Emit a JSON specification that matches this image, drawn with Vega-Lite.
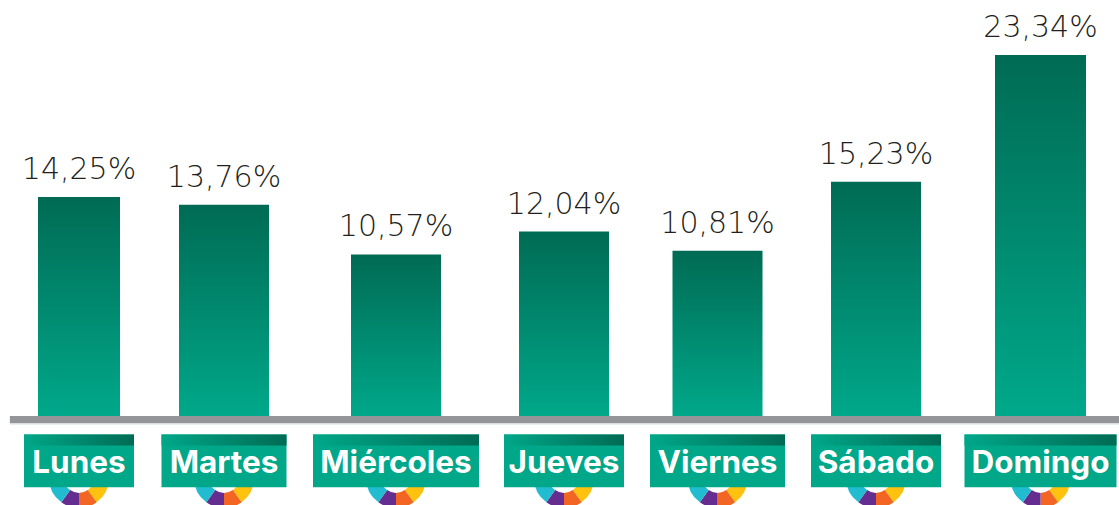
{
"$schema":"https://vega.github.io/schema/vega-lite/v6.json",
"width":1119,"height":505,"padding":0,"autosize":{"type":"none"},
"background":"white",
"view":{"stroke":null},
"config":{"axis":{"disable":true},"legend":{"disable":true}},
"datasets":{"dias":[
{"n":1,"dia":"Lunes","pct":14.25,"etiqueta":"14,25%"},
{"n":2,"dia":"Martes","pct":13.76,"etiqueta":"13,76%"},
{"n":3,"dia":"Miércoles","pct":10.57,"etiqueta":"10,57%"},
{"n":4,"dia":"Jueves","pct":12.04,"etiqueta":"12,04%"},
{"n":5,"dia":"Viernes","pct":10.81,"etiqueta":"10,81%"},
{"n":6,"dia":"Sábado","pct":15.23,"etiqueta":"15,23%"},
{"n":7,"dia":"Domingo","pct":23.34,"etiqueta":"23,34%"}]},
"data":{"name":"dias"},
"resolve":{"scale":{"size":"independent"}},
"encoding":{
"x":{"field":"n","type":"quantitative","axis":null,"scale":{"domain":[1,2,3,4,5,6,7],"range":[79,224,396,564,717.5,876,1040.5],"nice":false,"zero":false,"padding":0}},
"y":{"field":"pct","type":"quantitative","axis":null,"scale":{"domain":[-5.47,23.34],"range":[505,55],"nice":false,"zero":false}}
},
"layer":[
{"mark":{"type":"bar","orient":"vertical","color":{"gradient":"linear","x1":0,"y1":0,"x2":0,"y2":1,"stops":[{"offset":0,"color":"#006B54"},{"offset":1,"color":"#00A98B"}]}},
 "encoding":{"y2":{"datum":0},
 "size":{"field":"n","type":"quantitative","legend":null,"scale":{"domain":[1,2,3,4,5,6,7],"range":[82,90,90,90,90,90,91],"zero":false,"nice":false}}}},
{"mark":{"type":"text","font":"DejaVu Sans","fontSize":30,"fontWeight":200,"color":"#231F20","baseline":"alphabetic","dy":-18},
 "encoding":{"text":{"field":"etiqueta"}}},
{"mark":{"type":"rule","color":"#939598","strokeWidth":7},
 "encoding":{"x":{"datum":0.524},"x2":{"datum":7.48},"y":{"datum":0}}},
{"mark":{"type":"rule","color":"#DCDDDE","strokeWidth":1},
 "encoding":{"x":{"datum":0.524},"x2":{"datum":7.48},"y":{"datum":-0.26}}},
{"mark":{"type":"arc","theta":1.571,"theta2":2.513,"innerRadius":15,"outerRadius":30,"color":"#FFC20E"},"encoding":{"y":{"datum":-3.74}}},
{"mark":{"type":"arc","theta":2.513,"theta2":3.1416,"innerRadius":15,"outerRadius":30,"color":"#F26522"},"encoding":{"y":{"datum":-3.74}}},
{"mark":{"type":"arc","theta":3.1416,"theta2":3.77,"innerRadius":15,"outerRadius":30,"color":"#662D91"},"encoding":{"y":{"datum":-3.74}}},
{"mark":{"type":"arc","theta":3.77,"theta2":4.712,"innerRadius":15,"outerRadius":30,"color":"#22BCD0"},"encoding":{"y":{"datum":-3.74}}},
{"mark":{"type":"bar","orient":"vertical","color":"#00A789"},
 "encoding":{"y":{"datum":-0.95},"y2":{"datum":-4.34},
 "size":{"field":"n","type":"quantitative","legend":null,"scale":{"domain":[1,2,3,4,5,6,7],"range":[110,125,166,120,135,130,152],"zero":false,"nice":false}}}},
{"mark":{"type":"bar","orient":"vertical","color":{"gradient":"linear","x1":0,"y1":0,"x2":1,"y2":0,"stops":[{"offset":0,"color":"#00A789"},{"offset":1,"color":"#006B54"}]}},
 "encoding":{"y":{"datum":-0.95},"y2":{"datum":-1.66},
 "size":{"field":"n","type":"quantitative","legend":null,"scale":{"domain":[1,2,3,4,5,6,7],"range":[110,125,166,120,135,130,152],"zero":false,"nice":false}}}},
{"mark":{"type":"text","font":"Inter","fontSize":31.5,"fontWeight":700,"color":"white","baseline":"middle"},
 "encoding":{"y":{"datum":-2.82},"text":{"field":"dia"}}}
]
}
